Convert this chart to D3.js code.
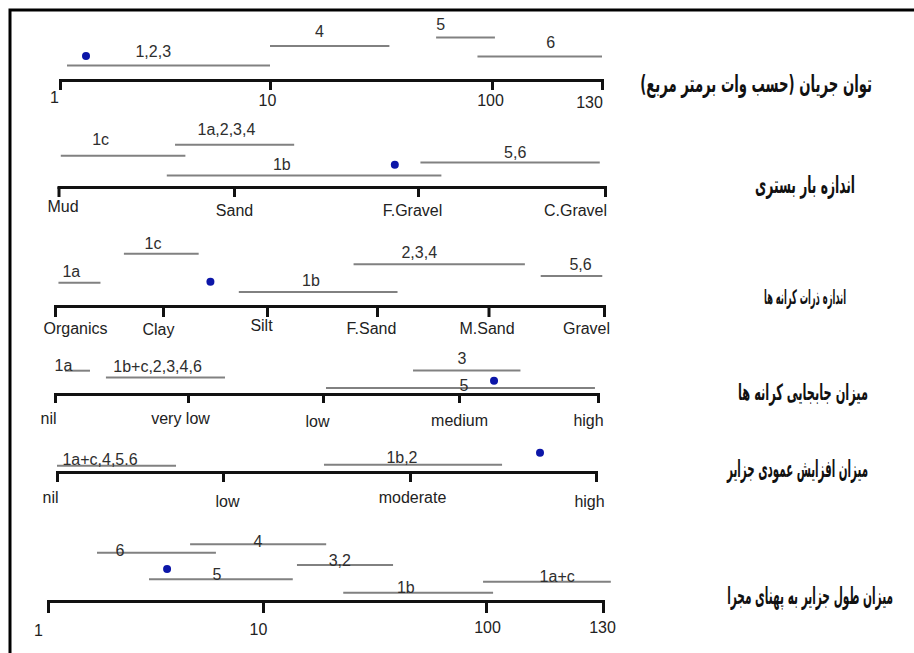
<!DOCTYPE html>
<html lang="fa">
<head>
<meta charset="utf-8">
<title>Island ranges</title>
<script src="https://d3js.org/d3.v7.min.js"></script>
<style>
  body { margin: 0; background: #fff; }
  svg { display: block; font-family: "Liberation Sans", Arial, sans-serif; }
</style>
</head>
<body>
<script>
// ---- data ----
// 1: stream power (log-ish axis)
var p1Title = "توان جریان (حسب وات برمتر مربع)";
var p1Ticks = [1, 10, 100, 130];
var p1TickLabels = ["1", "10", "100", "130"];
var p1Groups = ["1,2,3", "4", "5", "6"];
var p1Start = [1.08, 10, 56, 86];
var p1End = [10, 34.5, 100.7, 130];
var p1LabelAt = [2.78, 16.7, 58.7, 115];
var p1Dot = 1.33;

// 2: bed load size (category index units)
var p2Title = "اندازه بار بستری";
var p2TickLabels = ["Mud", "Sand", "F.Gravel", "C.Gravel"];
var p2Groups = ["1c", "1a,2,3,4", "1b", "5,6"];
var p2Start = [0.013, 0.664, 0.617, 2.013];
var p2End = [0.723, 1.327, 2.125, 2.972];
var p2LabelAt = [0.24, 0.957, 1.26, 2.52];
var p2Dot = 1.874;

// 3: bank material size
var p3Title = "اندازه ذرات کرانه ها";
var p3TickLabels = ["Organics", "Clay", "Silt", "F.Sand", "M.Sand", "Gravel"];
var p3Groups = ["1a", "1c", "1b", "2,3,4", "5,6"];
var p3Start = [0.032, 0.638, 1.729, 2.787, 4.452];
var p3End = [0.421, 1.343, 3.184, 4.315, 4.985];
var p3LabelAt = [0.151, 0.907, 2.399, 3.379, 4.797];
var p3Dot = 1.456;

// 4: bank mobility
var p4Title = "میزان جابجایی کرانه ها";
var p4TickLabels = ["nil", "very low", "low", "medium", "high"];
var p4Groups = ["1a", "1b+c,2,3,4,6", "3", "5"];
var p4Start = [0.075, 0.383, 2.662, 2.022];
var p4End = [0.263, 1.274, 3.442, 3.978];
var p4LabelAt = [0.064, 0.771, 3.022, 3.036];
var p4Dot = 3.252;

// 5: island vertical accretion
var p5Title = "میزان افزایش عمودی جزایر";
var p5TickLabels = ["nil", "low", "moderate", "high"];
var p5Groups = ["1a+c,4,5.6", "1b,2"];
var p5Start = [0, 1.54];
var p5End = [0.717, 2.495];
var p5LabelAt = [0.259, 1.957];
var p5Dot = 2.699;

// 6: island length / channel width
var p6Title = "میزان طول جزایر به پهنای مجرا";
var p6Ticks = [1, 10, 100, 130];
var p6TickLabels = ["1", "10", "100", "130"];
var p6Groups = ["4", "6", "3,2", "5", "1a+c", "1b"];
var p6Start = [4.58, 1.69, 14.2, 2.95, 97, 22.9];
var p6End = [19.2, 6.04, 38.3, 13.6, 132.3, 101.6];
var p6LabelAt = [9.48, 2.16, 22.1, 6.11, 117.3, 43.7];
var p6Dot = 3.58;

// ---- layout ----
var layout = [
  { axisY: 80, tickX: [60, 270, 492, 602], tickLen: 10, labelDx: [-6, -3, -2, -13], labelDy: [23, 26, 26, 28],
    barLift: [14.6, 34, 42.6, 23.6], textLift: [23, 43, 50, 32], dotLift: 24,
    titleRight: 872, titleY: 92, titleW: 232, titleSize: 19 },
  { axisY: 187, tickX: [58.5, 234, 418, 605], tickLen: 10, labelDx: [4, 0, -6, -30], labelDy: [25, 29, 29, 29],
    barLift: [31.3, 42.3, 11.6, 24.6], textLift: [42, 52, 17, 29], dotLift: 22.3,
    titleRight: 855, titleY: 193, titleW: 100, titleSize: 19 },
  { axisY: 306, tickX: [55, 163, 267, 377, 488.5, 604], tickLen: 11, labelDx: [20, -5, -6, -6, -2, -18], labelDy: [28, 29, 25, 28, 28, 28],
    barLift: [23.3, 52.3, 14, 41.7, 30], textLift: [29, 57, 20, 48, 36], dotLift: 24.3,
    titleRight: 846, titleY: 304, titleW: 82, titleSize: 16 },
  { axisY: 394, tickX: [55, 188, 323, 459, 598], tickLen: 9, labelDx: [-7, -8, -6, 0, -10], labelDy: [30, 30, 33, 32, 32],
    barLift: [23.3, 16.6, 23.6, 6], textLift: [22.6, 21.8, 30.3, 3], dotLift: 13.3,
    titleRight: 868, titleY: 400, titleW: 130, titleSize: 18 },
  { axisY: 472, tickX: [57, 223, 410, 596], tickLen: 10, labelDx: [-7, 4, 2, -7], labelDy: [31, 35, 31, 35],
    barLift: [6.3, 7.3], textLift: [7.3, 9.3], dotLift: 19.3,
    titleRight: 868, titleY: 477, titleW: 141, titleSize: 19 },
  { axisY: 601, tickX: [48, 263, 486, 603], tickLen: 12, labelDx: [-10, -5, 1, -1], labelDy: [35, 34, 32, 32],
    barLift: [56.7, 48.3, 36, 21.7, 19.3, 8.3], textLift: [54.3, 45, 35, 21, 19, 8], dotLift: 32,
    titleRight: 893, titleY: 604, titleW: 166, titleSize: 19 }
];
var titleStretch = 1.25; // persian glyphs in the source are taller than DejaVu's

var panels = [
  { title: p1Title, ticks: p1Ticks, tickLabels: p1TickLabels, groups: p1Groups, start: p1Start, end: p1End, labelAt: p1LabelAt, dot: p1Dot, log: true },
  { title: p2Title, tickLabels: p2TickLabels, groups: p2Groups, start: p2Start, end: p2End, labelAt: p2LabelAt, dot: p2Dot },
  { title: p3Title, tickLabels: p3TickLabels, groups: p3Groups, start: p3Start, end: p3End, labelAt: p3LabelAt, dot: p3Dot },
  { title: p4Title, tickLabels: p4TickLabels, groups: p4Groups, start: p4Start, end: p4End, labelAt: p4LabelAt, dot: p4Dot },
  { title: p5Title, tickLabels: p5TickLabels, groups: p5Groups, start: p5Start, end: p5End, labelAt: p5LabelAt, dot: p5Dot },
  { title: p6Title, ticks: p6Ticks, tickLabels: p6TickLabels, groups: p6Groups, start: p6Start, end: p6End, labelAt: p6LabelAt, dot: p6Dot, log: true }
];

var w = 914, h = 653;
var svg = d3.select("body").append("svg")
  .attr("width", w)
  .attr("height", h);

// frame (only left and top edges show)
svg.append("path")
  .attr("d", "M10," + h + "V10H" + w)
  .attr("fill", "none")
  .attr("stroke", "#000")
  .attr("stroke-width", 3);

panels.forEach(function (p, i) {
  var L = layout[i];
  var ticks = p.ticks || d3.range(p.tickLabels.length);
  // piecewise scale: tick values pinned to their drawn spots
  var x = (p.log ? d3.scaleLog() : d3.scaleLinear())
    .domain(ticks)
    .range(L.tickX);

  var axis = d3.axisBottom(x)
    .tickValues(ticks)
    .tickSize(L.tickLen)
    .tickSizeOuter(0)
    .tickFormat(function (d, j) { return p.tickLabels[j]; });

  var g = svg.append("g")
    .attr("transform", "translate(0," + L.axisY + ")")
    .call(axis)
    .attr("font-size", 16)
    .attr("font-family", null);

  g.select(".domain")
    .attr("stroke", "#111")
    .attr("stroke-width", 3)
    .attr("stroke-linecap", "square");
  g.selectAll(".tick line")
    .attr("stroke", "#111")
    .attr("stroke-width", 3);
  g.selectAll(".tick text")
    .attr("fill", "#222")
    .attr("dy", 0)
    .attr("y", function (d, j) { return L.labelDy[j]; })
    .attr("x", function (d, j) { return L.labelDx[j]; });

  // range bars
  svg.append("g").selectAll("line")
    .data(p.groups)
    .join("line")
    .attr("x1", function (d, j) { return x(p.start[j]); })
    .attr("x2", function (d, j) { return x(p.end[j]); })
    .attr("y1", function (d, j) { return L.axisY - L.barLift[j]; })
    .attr("y2", function (d, j) { return L.axisY - L.barLift[j]; })
    .attr("stroke", "#818181")
    .attr("stroke-width", 2);

  svg.append("g").selectAll("text")
    .data(p.groups)
    .join("text")
    .attr("x", function (d, j) { return x(p.labelAt[j]); })
    .attr("y", function (d, j) { return L.axisY - L.textLift[j]; })
    .attr("text-anchor", "middle")
    .attr("font-size", 16)
    .attr("fill", "#2e2e2e")
    .text(function (d) { return d; });

  // blue marker
  svg.append("circle")
    .attr("cx", x(p.dot))
    .attr("cy", L.axisY - L.dotLift)
    .attr("r", 4)
    .attr("fill", "#0c16a8");

  // persian title on the right, squeezed to the reference width
  var t = svg.append("text")
    .attr("direction", "rtl")
    .attr("text-anchor", "start")
    .attr("font-family", "'DejaVu Sans', sans-serif")
    .attr("font-weight", "bold")
    .attr("font-size", L.titleSize)
    .attr("fill", "#111")
    .text(p.title);
  var natural = t.node().getComputedTextLength() || L.titleW;
  t.attr("transform", "translate(" + L.titleRight + "," + L.titleY + ") scale(" + (L.titleW / natural) + "," + titleStretch + ")");
});
</script>
</body>
</html>
